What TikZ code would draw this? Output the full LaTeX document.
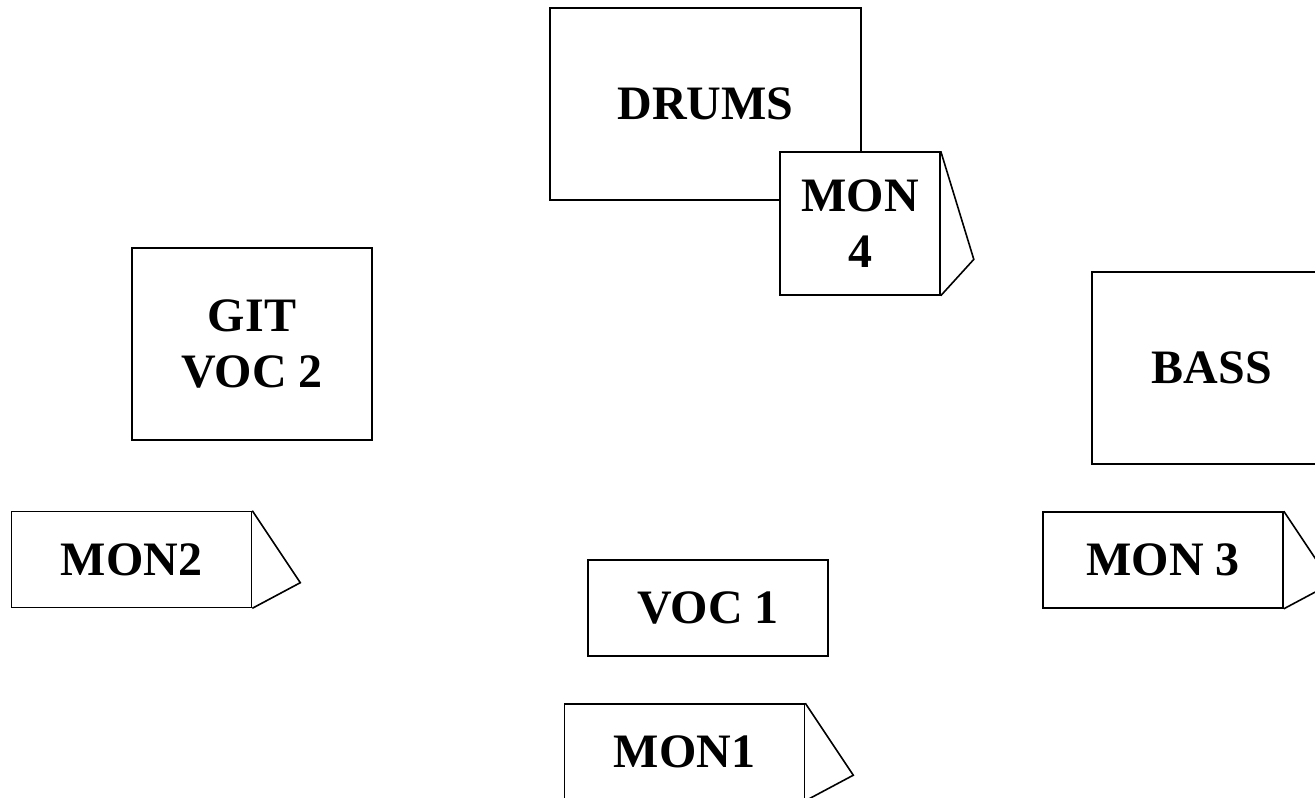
\documentclass[tikz,border=0pt]{standalone}
\usepackage{fontspec}
\setmainfont{Liberation Serif}
\begin{document}
\begin{tikzpicture}[x=0.75pt, y=-0.75pt]

    % Stile globale per i riquadri del palco
    \tikzset{
        every path/.style={line width=1.2pt},
        palco/.style={draw, fill=white, align=center, inner sep=0pt,
            font=\bfseries\fontsize{36}{42}\selectfont},
        grande/.style={palco, minimum width=180pt, minimum height=144pt},
        basso/.style={palco, minimum width=180pt, minimum height=72pt}
    }

    % Margini dell'immagine
    \useasboundingbox (0,0) rectangle (1315,797);

    % Strumenti
    \node[palco, minimum width=233pt, minimum height=144pt] (drums) at (705.5,104) {DRUMS};
    \node[grande] (git) at (252,344) {GIT\\VOC 2};
    \node[grande] (bass) at (1212,368) {BASS};
    \node[basso] (voc1) at (708,608) {VOC 1};

    % Monitor con il cuneo a destra
    \node[palco, minimum width=120pt, minimum height=107pt] (mon4) at (860,223.5) {MON\\4};
    \draw (mon4.north east) -- ++(33,108) -- (mon4.south east);

    \node[basso] (mon2) at (131.5,559.5) {MON2};
    \draw (mon2.north east) -- ++(48,72) -- (mon2.south east);

    \node[basso] (mon3) at (1163,560) {MON 3};
    \draw (mon3.north east) -- ++(48,72) -- (mon3.south east);

    \node[basso] (mon1) at (684.5,752) {MON1};
    \draw (mon1.north east) -- ++(48,72) -- (mon1.south east);

\end{tikzpicture}
\end{document}
